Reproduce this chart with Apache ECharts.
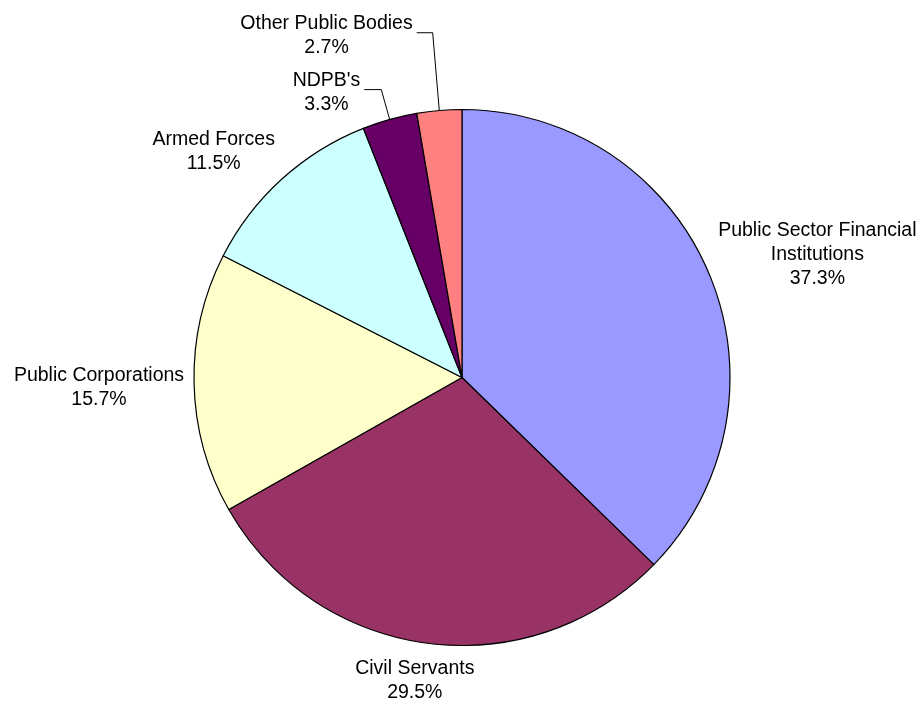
<!DOCTYPE html>
<html>
<head>
<meta charset="utf-8">
<script src="https://cdn.jsdelivr.net/npm/echarts@6/dist/echarts.min.js"></script>
<style>
  html, body { margin: 0; padding: 0; background: #ffffff; }
  #chart { width: 921px; height: 702px; }
</style>
</head>
<body>
<div id="chart"></div>
<script>
// ---- data ----
const categories = ['Public Sector Financial Institutions', 'Civil Servants', 'Public Corporations', 'Armed Forces', "NDPB's", 'Other Public Bodies'];
const shares = [37.3, 29.5, 15.7, 11.5, 3.3, 2.7];
const sliceColors = ['#9999FF', '#993366', '#FFFFCC', '#CCFFFF', '#660066', '#FF8080'];

// ---- styling config (not data) ----
const leaderLines = { "NDPB's": [31, 17], 'Other Public Bodies': [78, 16] };
const labelGap = 10;
const labelBaselineShift = 3;
const maxLineChars = 23;

function wrapName(name) {
  const words = name.split(' ');
  const lines = [];
  let cur = '';
  words.forEach(function (w) {
    const test = cur ? cur + ' ' + w : w;
    if (test.length > maxLineChars && cur) { lines.push(cur); cur = w; }
    else { cur = test; }
  });
  if (cur) lines.push(cur);
  return lines.join('\n');
}

const chart = echarts.init(document.getElementById('chart'), null, { renderer: 'canvas' });

const seriesData = categories.map(function (name, i) {
  const item = { name: name, value: shares[i], itemStyle: { color: sliceColors[i] } };
  if (leaderLines[name]) {
    item.labelLine = {
      show: true,
      length: leaderLines[name][0],
      length2: leaderLines[name][1],
      lineStyle: { color: '#000000', width: 1, opacity: 1 }
    };
  }
  return item;
});

const option = {
  backgroundColor: '#ffffff',
  animation: false,
  series: [{
    type: 'pie',
    left: 0, top: 0, width: 1200, height: 702,
    center: [462, 377.5],
    radius: 268,
    startAngle: 90,
    clockwise: true,
    percentPrecision: 1,
    avoidLabelOverlap: true,
    emphasis: { disabled: true },
    itemStyle: { borderColor: '#000000', borderWidth: 1.2 },
    label: {
      show: true,
      position: 'outside',
      alignTo: 'none',
      bleedMargin: 0,
      distanceToLabelLine: 4,
      color: '#000000',
      fontFamily: '"Liberation Sans", Arial, sans-serif',
      fontSize: 19.5,
      lineHeight: 24,
      formatter: function (p) { return wrapName(p.name) + '\n' + p.percent + '%'; }
    },
    labelLine: {
      show: true,
      length: 2,
      length2: 0,
      smooth: false,
      lineStyle: { opacity: 0, width: 0 }
    },
    labelLayout: function (p) {
      const r = p.labelRect;
      const pts = p.labelLinePoints;
      const name = categories[p.dataIndex];
      if (leaderLines[name]) {
        return {
          x: r.x + r.width / 2,
          y: r.y + r.height / 2 + labelBaselineShift,
          align: 'center',
          verticalAlign: 'middle',
          labelLinePoints: pts
        };
      }
      if (!pts) return {};
      const p0 = pts[0], p1 = pts[1];
      let dx = p1[0] - p0[0], dy = p1[1] - p0[1];
      const len = Math.hypot(dx, dy) || 1;
      dx /= len; dy /= len;
      const fx = function (u) { return Math.max(-1, Math.min(1, 1.5 * u)); };
      const fy = function (u) { return Math.max(-1, Math.min(1, 1.3 * u)); };
      return {
        x: p0[0] + dx * labelGap + r.width / 2 * fx(dx),
        y: p0[1] + dy * labelGap + r.height / 2 * fy(dy) + labelBaselineShift,
        align: 'center',
        verticalAlign: 'middle'
      };
    },
    data: seriesData
  }]
};

chart.setOption(option);
</script>
</body>
</html>
